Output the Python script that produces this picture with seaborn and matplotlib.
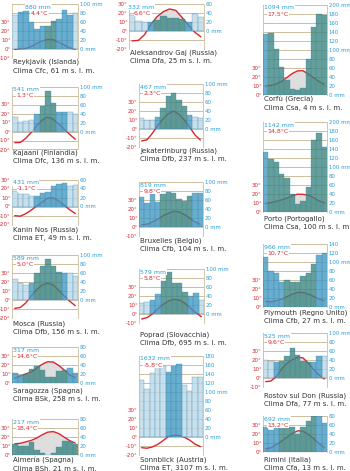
import matplotlib
matplotlib.use("Agg")
import matplotlib.pyplot as plt
import seaborn as sns
import numpy as np
import pandas as pd

sns.set_style("white")
plt.rcParams["font.family"] = ["Liberation Sans Narrow", "DejaVu Sans"]

months = list(range(1, 13))

# monthly precipitation (mm) and mean temperature (degC)
reykjavik_p = [76, 82, 84, 60, 45, 52, 52, 62, 67, 87, 75, 79]
reykjavik_t = [-0.5, 0.4, 0.5, 2.9, 6.3, 9.0, 10.6, 10.3, 7.4, 4.4, 1.1, -0.2]
kajaani_p = [32, 22, 24, 26, 38, 56, 89, 64, 44, 44, 43, 40]
kajaani_t = [-12.4, -12.2, -7.6, -1.0, 6.6, 12.8, 16.0, 13.6, 8.3, 2.6, -3.3, -8.6]
kanin_p = [35, 28, 27, 23, 23, 29, 33, 45, 49, 53, 45, 47]
kanin_t = [-10.2, -10.8, -8.0, -4.0, 0.6, 5.0, 9.3, 9.6, 6.2, 1.2, -3.6, -7.8]
mosca_p = [47, 38, 33, 39, 60, 76, 92, 76, 64, 60, 60, 53]
mosca_t = [-9.0, -8.0, -3.0, 5.0, 12.0, 17.0, 19.0, 17.0, 11.0, 5.0, -1.0, -6.0]
saragozza_p = [22, 18, 21, 32, 38, 30, 15, 15, 27, 30, 33, 22]
saragozza_t = [6.0, 7.8, 10.5, 12.6, 16.8, 21.2, 24.0, 23.6, 19.8, 14.8, 9.2, 6.4]
almeria_p = [24, 21, 21, 28, 11, 4, 1, 4, 17, 31, 31, 24]
almeria_t = [12.4, 13.0, 14.6, 16.2, 18.9, 22.5, 25.4, 26.0, 23.8, 19.8, 15.9, 13.2]
aleksandrov_p = [36, 23, 20, 20, 25, 34, 30, 29, 26, 19, 38, 32]
aleksandrov_t = [-11.0, -10.4, -4.0, 7.5, 16.0, 21.5, 24.5, 22.8, 15.0, 6.5, -1.2, -6.5]
jekaterinburg_p = [24, 20, 19, 27, 47, 73, 81, 64, 51, 30, 27, 24]
jekaterinburg_t = [-13.3, -12.0, -4.9, 3.8, 11.2, 17.0, 20.0, 16.5, 10.0, 2.1, -6.7, -12.2]
bruxelles_p = [68, 55, 73, 57, 73, 79, 76, 62, 58, 70, 77, 77]
bruxelles_t = [2.8, 3.4, 6.0, 8.8, 12.8, 15.6, 17.6, 17.2, 14.4, 10.4, 6.0, 3.4]
poprad_p = [24, 27, 31, 44, 74, 93, 70, 70, 50, 39, 46, 31]
poprad_t = [-5.5, -4.0, 0.2, 6.0, 11.0, 14.6, 16.3, 15.6, 11.8, 6.8, 1.5, -3.0]
sonnblick_p = [127, 107, 142, 154, 157, 144, 157, 161, 115, 101, 133, 132]
sonnblick_t = [-12.2, -12.8, -11.4, -8.6, -4.4, 0.2, 1.5, 1.6, -0.6, -3.8, -8.2, -11.0]
corfu_p = [134, 137, 101, 62, 33, 12, 10, 16, 80, 151, 180, 178]
corfu_t = [9.8, 10.4, 12.0, 14.8, 19.2, 23.6, 26.5, 26.6, 23.0, 18.8, 14.8, 11.4]
porto_p = [134, 118, 112, 85, 75, 40, 18, 25, 55, 160, 175, 145]
porto_t = [9.5, 10.4, 12.0, 13.4, 15.4, 18.0, 19.8, 19.6, 18.6, 15.8, 12.4, 10.3]
plymouth_p = [111, 80, 75, 55, 60, 55, 55, 70, 75, 95, 115, 120]
plymouth_t = [6.2, 5.9, 7.0, 8.6, 11.5, 14.3, 16.2, 16.2, 14.4, 11.8, 8.9, 7.1]
rostov_p = [40, 38, 36, 38, 48, 66, 52, 38, 35, 36, 48, 50]
rostov_t = [-4.1, -3.3, 1.6, 10.1, 16.4, 20.3, 23.2, 22.3, 16.5, 9.6, 3.5, -1.1]
rimini_p = [55, 50, 55, 60, 55, 55, 40, 55, 70, 80, 85, 65]
rimini_t = [3.5, 4.7, 8.3, 12.1, 16.6, 20.7, 23.5, 23.1, 19.6, 14.9, 9.4, 4.9]

names = ["Reykjavík (Islanda)", "Kajaani (Finlandia)", "Kanin Nos (Russia)", "Mosca (Russia)",
         "Saragozza (Spagna)", "Almería (Spagna)", "Aleksandrov Gaj (Russia)",
         "Jekaterinburg (Russia)", "Bruxelles (Belgio)", "Poprad (Slovacchia)",
         "Sonnblick (Austria)", "Corfù (Grecia)", "Porto (Portogallo)",
         "Plymouth (Regno Unito)", "Rostov sul Don (Russia)", "Rimini (Italia)"]
climates = ["Clima Cfc, 61 m s. l. m.", "Clima Dfc, 136 m s. l. m.", "Clima ET, 49 m s. l. m.",
            "Clima Dfb, 156 m s. l. m.", "Clima BSk, 258 m s. l. m.", "Clima BSh, 21 m s. l. m.",
            "Clima Dfa, 25 m s. l. m.", "Clima Dfb, 237 m s. l. m.", "Clima Cfb, 104 m s. l. m.",
            "Clima Dfb, 695 m s. l. m.", "Clima ET, 3107 m s. l. m.", "Clima Csa, 4 m s. l. m.",
            "Clima Csa, 100 m s. l. m.", "Clima Cfb, 27 m s. l. m.", "Clima Dfa, 77 m s. l. m.",
            "Clima Cfa, 13 m s. l. m."]
totals = ["880 mm", "541 mm", "431 mm", "589 mm", "317 mm", "217 mm", "332 mm", "467 mm",
          "819 mm", "579 mm", "1632 mm", "1094 mm", "1142 mm", "966 mm", "525 mm", "692 mm"]
means = ["4,4°C", "1,3°C", "-1,1°C", "5,0°C", "14,6°C", "18,4°C", "6,6°C", "2,3°C",
         "9,8°C", "5,8°C", "-5,8°C", "17,5°C", "14,8°C", "10,7°C", "9,6°C", "13,2°C"]
precip = [reykjavik_p, kajaani_p, kanin_p, mosca_p, saragozza_p, almeria_p, aleksandrov_p,
          jekaterinburg_p, bruxelles_p, poprad_p, sonnblick_p, corfu_p, porto_p, plymouth_p,
          rostov_p, rimini_p]
temps = [reykjavik_t, kajaani_t, kanin_t, mosca_t, saragozza_t, almeria_t, aleksandrov_t,
         jekaterinburg_t, bruxelles_t, poprad_t, sonnblick_t, corfu_t, porto_t, plymouth_t,
         rostov_t, rimini_t]

# layout in pixels: box left, box right, y of 0 line, top (mm), lowest temp, caption y, label x
layout = [
    (12, 78, 49, 100, -10, 63, "c"),
    (12, 78, 131.5, 100, -20, 153, "l"),
    (12, 78, 206.5, 60, -20, 230, "c2"),
    (12, 78, 300.3, 100, -20, 324, "l"),
    (12, 78, 383.3, 80, 0, 391, "l"),
    (12, 78, 455, 80, 0, 461, "l"),
    (129, 204, 31, 60, -20, 52.5, "l2"),
    (139, 203, 129, 100, -20, 151, "l"),
    (139, 203, 227.3, 100, -10, 241, "l"),
    (139, 204, 314, 100, -10, 335, "l"),
    (139, 203, 436.7, 180, -20, 460, "l"),
    (263, 327, 94.7, 200, 0, 99.5, "l"),
    (263, 327, 212, 200, 0, 219, "l"),
    (263, 327, 307, 140, 0, 313, "l"),
    (263, 327, 378, 100, -10, 396, "l"),
    (263, 327, 452, 80, 0, 460, "l"),
]

W, H = 350, 471
PPM = 0.45  # pixels per mm (10 degC = 20 mm)
TAN = "#cdbd9e"
RED = "#d8262c"
BLUE = "#2c9ed6"
palette = {"pale": "#b4d9ee", "blue": "#2a9fd8", "teal": "#2f8f86"}

fig = plt.figure(figsize=(W / 100, H / 100), dpi=100)


def draw(i):
    x0, x1, yz, top, tmin, cap_y, lab = layout[i]
    p = np.array(precip[i])
    t2 = np.array(temps[i]) * 2
    bottom_px = yz - 2 * tmin * PPM
    height_px = (top - 2 * tmin) * PPM
    ax = fig.add_axes([x0 / W, 1 - bottom_px / H, (x1 - x0) / W, height_px / H])

    for v in range(2 * tmin, top + 1, 20):
        ax.axhline(v, color=TAN, lw=1.1 if v == 0 else 0.7, zorder=1)

    xs = np.arange(12)
    ax.fill_between(xs, 0, t2, where=t2 > 0, interpolate=True, color="#dedede", lw=0, zorder=1.5)
    sns.lineplot(x=xs, y=t2, color=RED, lw=1.0, ax=ax, zorder=2)

    cls = ["pale" if t < 0 else ("blue" if t < 10 else "teal") for t in temps[i]]
    df = pd.DataFrame({"m": months, "p": p, "c": cls})
    sns.barplot(data=df, x="m", y="p", hue="c", palette=palette, dodge=False, width=1.0,
                alpha=0.78, edgecolor="#3a8fb8", linewidth=0.3, legend=False, ax=ax, zorder=3)

    ax.set_xlim(-0.5, 11.5)
    ax.set_ylim(2 * tmin, top)
    ax.set_xlabel("")
    ax.set_ylabel("")
    ax.set_xticks([])
    for s in ["top", "bottom"]:
        ax.spines[s].set_visible(False)
    for s in ["left", "right"]:
        ax.spines[s].set_color(TAN)
        ax.spines[s].set_linewidth(0.6)

    lt = list(range(tmin, 31, 10))
    ax.set_yticks([2 * t for t in lt])
    ax.set_yticklabels([f"{t}°" for t in lt])
    ax.tick_params(axis="y", length=0, pad=1.0, labelsize=4.0, labelcolor=RED)

    axr = ax.twinx()
    axr.set_ylim(2 * tmin, top)
    rt = list(range(0, top + 1, 20))
    axr.set_yticks(rt)
    axr.set_yticklabels([f"{v} mm" if v in (0, 100, 200) else str(v) for v in rt])
    axr.tick_params(axis="y", length=0, pad=1.2, labelsize=3.9, labelcolor=BLUE)
    for s in axr.spines.values():
        s.set_visible(False)

    # annual values inside the box
    y1 = top - 3.2 / PPM
    y2 = top - 9.2 / PPM
    if lab == "c":
        tx, ha = 4.3, "center"
    elif lab == "c2":
        tx, ha = 2.0, "center"
    elif lab == "l2":
        tx, ha = 1.5, "center"
    else:
        tx, ha = -0.3, "left"
    box = dict(facecolor="white", edgecolor="none", pad=0.3)
    ax.text(tx, y1, totals[i], color=BLUE, fontsize=4.5, ha=ha, va="center", bbox=box, zorder=5)
    ax.text(tx + (0.6 if ha == "left" else 0.2), y2, means[i], color=RED, fontsize=4.5,
            ha=ha, va="center", bbox=box, zorder=5)

    fig.text((x0 + 1) / W, 1 - cap_y / H, names[i], fontsize=5.0, color="#333333", va="center")
    fig.text((x0 + 1) / W, 1 - (cap_y + 8.2) / H, climates[i], fontsize=5.0, color="#333333",
             va="center")


for i in range(len(names)):
    draw(i)

fig.savefig("out.png", dpi=100, facecolor="white")
